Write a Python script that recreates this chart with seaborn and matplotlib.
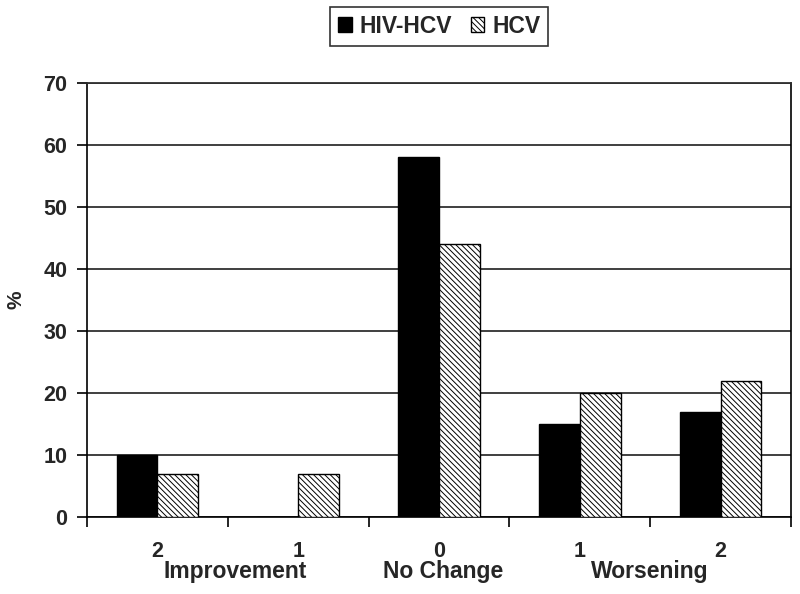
import pandas as pd
import matplotlib.pyplot as plt
import matplotlib.transforms as mtransforms
import seaborn as sns

categories = ['Imp2', 'Imp1', 'None0', 'Wor1', 'Wor2']
tick_labels = ['2', '1', '0', '1', '2']
group_labels = ['Improvement', 'No Change', 'Worsening']
group_pos = [0.55, 2.03, 3.5]
hiv_hcv = [10, 0, 58, 15, 17]
hcv = [7, 7, 44, 20, 22]


def main():
    data = pd.DataFrame({
        'cat': categories * 2,
        'pct': hiv_hcv + hcv,
        'group': ['HIV-HCV'] * 5 + ['HCV'] * 5,
    })

    sns.set_style('white')
    plt.rcParams['font.family'] = ['Liberation Sans', 'DejaVu Sans']
    plt.rcParams['font.weight'] = 'bold'
    plt.rcParams['hatch.linewidth'] = 0.7

    fig = plt.figure(figsize=(8, 5.94), dpi=100)
    ax = fig.add_axes([0.10875, 0.1296, 0.88, 0.7307])
    sns.barplot(data=data, x='cat', y='pct', hue='group', order=categories,
                hue_order=['HIV-HCV', 'HCV'], palette=['black', 'white'],
                width=0.58, edgecolor='black', linewidth=1.0, ax=ax,
                legend=False, zorder=3)

    for bar in ax.containers[1]:
        bar.set_hatch('\\\\\\\\\\\\')

    ax.set_ylim(0, 70)
    ax.set_xlim(-0.5, 4.5)
    ax.set_yticks(range(0, 71, 10))
    ax.yaxis.grid(True, color='#303030', linewidth=1.3, zorder=0)
    ax.set_axisbelow(True)
    ax.tick_params(axis='y', direction='out', length=7, width=1.2,
                   color='black', labelsize=15.5, pad=7, left=True)
    ax.set_yticklabels([str(v) for v in range(0, 71, 10)], fontweight='bold')

    # category numbers and group names as two text rows under the axis
    ax.set_xticks(range(5))
    ax.set_xticklabels([])
    ax.tick_params(axis='x', which='major', length=0)
    ax.set_xticks([i - 0.5 for i in range(6)], minor=True)
    ax.tick_params(axis='x', which='minor', direction='out', length=7,
                   width=1.2, color='black', bottom=True)

    trans = mtransforms.blended_transform_factory(ax.transData, ax.transAxes)
    for x, lab in enumerate(tick_labels):
        ax.text(x, -0.0922, lab, transform=trans, ha='center', va='baseline',
                fontsize=15.5, fontweight='bold')
    for x, lab in zip(group_pos, group_labels):
        ax.text(x, -0.1406, lab, transform=trans, ha='center', va='baseline',
                fontsize=16.5, fontweight='bold')

    ax.set_xlabel('')
    ax.set_ylabel('%', fontsize=15, fontweight='bold')
    ax.yaxis.set_label_coords(-0.088, 0.5)

    for side in ['left', 'bottom', 'right']:
        ax.spines[side].set_visible(True)
        ax.spines[side].set_color('black')
        ax.spines[side].set_linewidth(1.2)
    ax.spines['top'].set_visible(True)
    ax.spines['top'].set_color('#303030')
    ax.spines['top'].set_linewidth(1.3)

    handles = [ax.containers[0][0], ax.containers[1][0]]
    leg = fig.legend(handles, ['HIV-HCV', 'HCV'], loc='center',
                     bbox_to_anchor=(0.549, 0.956), ncol=2, frameon=True,
                     fancybox=False, edgecolor='black', fontsize=16.5,
                     handlelength=0.6, handleheight=0.6, handletextpad=0.35,
                     columnspacing=0.8, borderpad=0.35)
    leg.get_frame().set_linewidth(1.2)
    for t in leg.get_texts():
        t.set_fontweight('bold')

    fig.savefig('out.png', dpi=100)


if __name__ == '__main__':
    main()
